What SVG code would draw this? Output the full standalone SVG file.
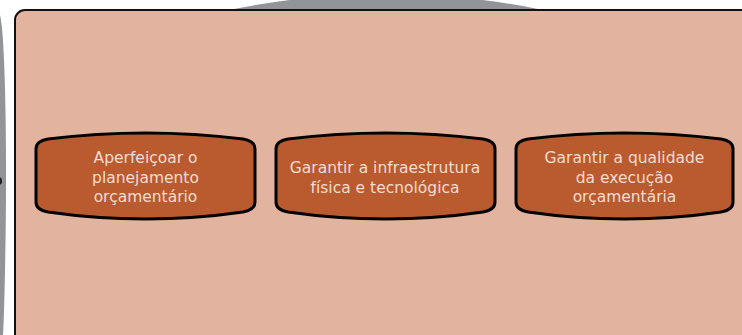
<svg xmlns="http://www.w3.org/2000/svg" width="742" height="335" viewBox="0 0 742 335">
<style>
.node{fill:#BA5A2F;stroke:#000;stroke-width:3;stroke-linejoin:round}
.lbl{font-family:"DejaVu Sans",sans-serif;font-size:15.5px;fill:#F3DDD2;text-anchor:middle}
</style>
<defs>
<clipPath id="topclip"><rect x="150" y="0" width="500" height="14"/></clipPath>
</defs>
<rect x="0" y="0" width="742" height="335" fill="#ffffff"/>
<g id="background">
<circle cx="386" cy="773" r="779" fill="#919598" clip-path="url(#topclip)"/>
<path d="M0,15 C4,30 6,100 6,175 C6,250 4,320 3,335 L0,335 Z" fill="#919598"/>
<ellipse cx="0" cy="181" rx="2" ry="3.5" fill="#222"/>
</g>
<g id="container">
<rect x="15" y="10" width="760" height="360" rx="10" fill="#E2B4A0" stroke="#111" stroke-width="2"/>
</g>
<g id="connectors"></g>
<g id="node1">
<path class="node" d="M36,149 Q36,141 48,139 Q145.5,127 243,139 Q255,141 255,149 L255,202 Q255,210 243,212 Q145.5,226 48,212 Q36,210 36,202 Z"/>
<text class="lbl" x="145.5" y="163">Aperfeiçoar o</text>
<text class="lbl" x="145.5" y="182.5">planejamento</text>
<text class="lbl" x="145.5" y="202">orçamentário</text>
</g>
<g id="node2">
<path class="node" d="M276,149 Q276,141 288,139 Q385.5,127 483,139 Q495,141 495,149 L495,202 Q495,210 483,212 Q385.5,226 288,212 Q276,210 276,202 Z"/>
<text class="lbl" x="385" y="173">Garantir a infraestrutura</text>
<text class="lbl" x="385" y="192.5">física e tecnológica</text>
</g>
<g id="node3">
<path class="node" d="M516,149 Q516,141 528,139 Q624.5,127 721,139 Q733,141 733,149 L733,202 Q733,210 721,212 Q624.5,226 528,212 Q516,210 516,202 Z"/>
<text class="lbl" x="624.5" y="163">Garantir a qualidade</text>
<text class="lbl" x="624.5" y="182.5">da execução</text>
<text class="lbl" x="624.5" y="202">orçamentária</text>
</g>
</svg>
